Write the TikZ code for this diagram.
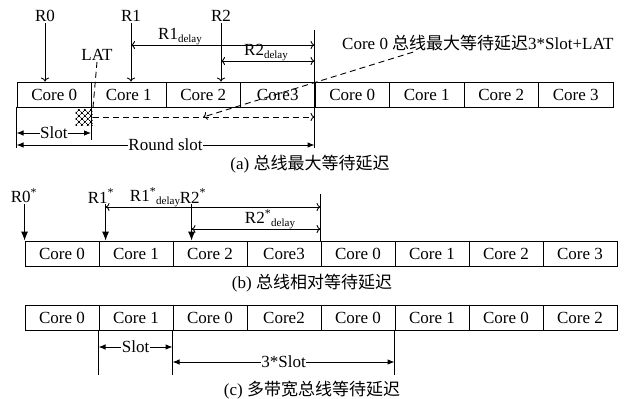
\documentclass[tikz,border=0pt]{standalone}
\usepackage{fontspec}
\setmainfont{Liberation Serif}
\newfontfamily\cjk{Noto Sans CJK SC}
\usetikzlibrary{arrows.meta, positioning, patterns.meta}
\newcommand{\dly}{\raisebox{-3.5pt}{\fontsize{11}{11}\selectfont delay}}

\begin{document}
\begin{tikzpicture}[x=1pt,y=-1pt, >={To[length=4pt,width=8pt]},
    core/.style={draw, line width=0.9pt, minimum width=74.5pt, minimum height=25pt, inner sep=0pt, font=\fontsize{17}{19}\selectfont},
    lbl/.style={inner sep=1pt, font=\fontsize{17}{19}\selectfont},
    sublbl/.style={lbl, anchor=south, inner sep=0.5pt},
    gap/.style={lbl, fill=white, inner sep=0.5pt},
    dim/.style={line width=0.9pt},
    dashline/.style={dim, dash pattern=on 6pt off 4pt},
    fat/.style={dim, -{Latex[length=9pt,width=7pt]}},
    twofat/.style={dim, {Latex[length=7pt,width=5.5pt]}-{Latex[length=7pt,width=5.5pt]}}]
\useasboundingbox (0,0) rectangle (632,399);

% (a) bus max waiting delay
\foreach \lab [count=\i from 0] in {Core 0,Core 1,Core 2,Core3,Core 0,Core 1,Core 2,Core 3}
  \node[core] (a\i) at ({54.25+74.5*\i},94.5) {\lab};

\node[lbl] (r0) at (45,16) {R0};
\node[lbl] (r1) at (131,16) {R1};
\node[lbl] (r2) at (221,16) {R2};
\draw[dim,->] (r0.south) -- (r0.south |- a0.north);
\draw[dim,->] (r1.south) -- (r1.south |- a1.north);
\draw[dim,->] (r2.south) -- (r2.south |- a2.north);

\coordinate (enda) at ([yshift=52pt]a4.north west);
\coordinate (lowa) at ([yshift=-41pt]a4.south west);
\draw[dim] (enda) -- (lowa);

\draw[dim,<->] (r1.south |- 0,45) -- (enda |- 0,45);
\node[sublbl] (r1d) at (180,46) {R1\dly};
\draw[dim,<->] (r2.south |- 0,61) -- (enda |- 0,61);
\node[sublbl] (r2d) at (266,62) {R2\dly};

\node[lbl] (lat) at (97,55) {LAT};
\node[pattern={Lines[angle=45,distance=4pt,line width=0.8pt]},
      preaction={pattern={Lines[angle=-45,distance=4pt,line width=0.8pt]}},
      minimum width=17pt, minimum height=16pt, inner sep=0pt] (lt) at (84,117) {};
\draw[dashline] (lat.south) -- (lt.north east);
\draw[dashline,->] (lt.east) -- (lt.east -| enda);

\node[lbl, anchor=west] (note) at (341,43) {Core 0 {\cjk 总线最大等待延迟}3*Slot+LAT};
\draw[dashline,->] ([xshift=72pt]note.south west) -- (a2.center |- lt.east);

\draw[dim] (a0.south west) -- (a0.south west |- 0,148);
\draw[dim] (a1.south west) -- (a1.south west |- 0,140);
\draw[twofat] (a0.south west |- 0,133) -- (a1.south west |- 0,133) node[gap,midway] (slota) {Slot};
\draw[twofat] (a0.south west |- 0,145) -- (lowa |- 0,145) node[gap,midway] (rounda) {Round slot};

\node[lbl] (capa) at (310,164) {(a) {\cjk 总线最大等待延迟}};

% (b) bus relative waiting delay
\foreach \lab [count=\i from 0] in {Core 0,Core 1,Core 2,Core3,Core 0,Core 1,Core 2,Core 3}
  \node[core, minimum width=74pt] (b\i) at ({62+74*\i},253.5) {\lab};

\node[lbl] (s0) at (24,196) {R0\textsuperscript{*}};
\node[lbl] (s1) at (101,196) {R1\textsuperscript{*}};
\node[lbl] (s2) at (193,196) {R2\textsuperscript{*}};
\coordinate (h1) at ([xshift=7pt]b1.north west);
\coordinate (h2) at ([xshift=19pt]b2.north west);
\draw[fat] (b0.north west |- s0.south) -- (b0.north west);
\draw[fat] (h1 |- s1.south) -- (h1);
\draw[fat] (h2 |- s2.south) -- (h2);

\coordinate (endb) at ([yshift=47pt]b4.north west);
\draw[dim] (endb) -- (b4.north west);
\draw[dim,<->] (h1 |- 0,207) -- (endb |- 0,207);
\node[sublbl] (s1d) at (155,208) {R1\textsuperscript{*}\dly};
\draw[dim,<->] (h2 |- 0,229) -- (endb |- 0,229);
\node[sublbl] (s2d) at (270,230) {R2\textsuperscript{*}\dly};

\node[lbl] (capb) at (312,283) {(b) {\cjk 总线相对等待延迟}};

% (c) multi-bandwidth bus waiting delay
\foreach \lab [count=\i from 0] in {Core 0,Core 1,Core 0,Core2,Core 0,Core 1,Core 0,Core 2}
  \node[core, minimum width=74pt] (c\i) at ({62+74*\i},318) {\lab};

\draw[dim] (c1.south west) -- (c1.south west |- 0,375);
\draw[dim] (c2.south west) -- (c2.south west |- 0,375);
\draw[dim] (c5.south west) -- (c5.south west |- 0,375);
\draw[twofat] (c1.south west |- 0,347) -- (c2.south west |- 0,347) node[gap,midway] (slotc) {Slot};
\draw[twofat] (c2.south west |- 0,362) -- (c5.south west |- 0,362) node[gap,midway] (threec) {3*Slot};

\node[lbl] (capc) at (312,390) {(c) {\cjk 多带宽总线等待延迟}};
\end{tikzpicture}
\end{document}
